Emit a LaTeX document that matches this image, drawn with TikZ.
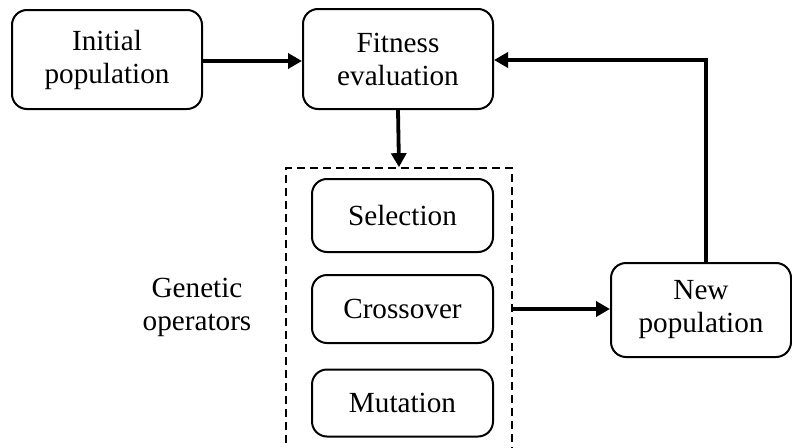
\documentclass[tikz,border=0pt]{standalone}
\usepackage{fontspec}
\setmainfont{Liberation Serif}
\usetikzlibrary{arrows.meta}
\begin{document}
\begin{tikzpicture}[x=1pt,y=-1pt,
  every node/.style={font=\fontsize{29.2}{33}\selectfont, align=center, inner sep=0pt},
  stepbox/.style={draw, line width=2pt, rounded corners=15pt},
  groupbox/.style={draw, line width=1.7pt, dash pattern=on 8pt off 5pt},
  conn/.style={line width=3.8pt, -{Triangle[length=14pt,width=15pt]}}]
\useasboundingbox (0,0) rectangle (792,447);
\clip (0,0) rectangle (792,447);
\node[stepbox, minimum width=190pt, minimum height=99pt] (init) at (107,59.5) {Initial\\population};
\node[stepbox, minimum width=190pt, minimum height=100pt] (fit) at (398,59) {Fitness\\evaluation};
\node[groupbox, minimum width=226pt, minimum height=282pt] (ops) at (399,309) {};
\node[stepbox, minimum width=181pt, minimum height=73pt] (sel) at (402.5,215.5) {Selection};
\node[stepbox, minimum width=181pt, minimum height=68pt] (cro) at (402.5,309) {Crossover};
\node[stepbox, minimum width=181pt, minimum height=67pt] (mut) at (402.5,403) {Mutation};
\node[stepbox, minimum width=180pt, minimum height=94pt] (new) at (701,310) {New\\population};
\node (lab) at (197,307) {Genetic\\operators};
\coordinate (up) at (706,60);
\draw[conn] (init.east |- 0,61) -- (fit.west |- 0,61);
\draw[conn] (fit.south -| 398,0) -- (ops.north);
\draw[conn] (ops.east) -- (new.west |- ops.east);
\draw[conn] (new.north -| up) -- (up) -- (fit.east |- up);
\end{tikzpicture}
\end{document}
